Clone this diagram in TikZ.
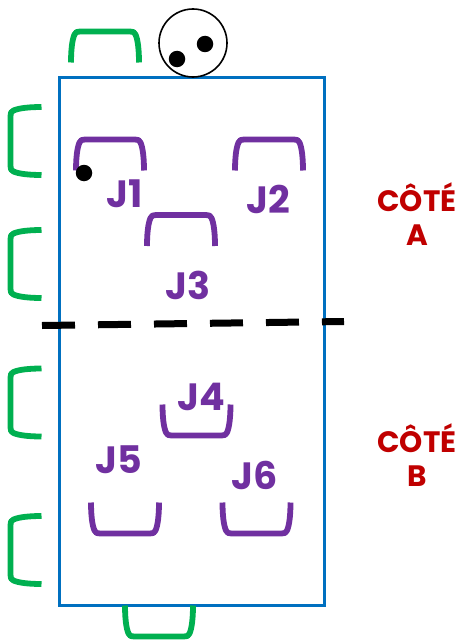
\documentclass[tikz,border=0pt]{standalone}
\usepackage{fontspec}
\setmainfont{Poppins}
\tikzset{
  x=1pt,y=-1pt,
  purplechair/.style={draw=chairpurple,line width=5.8pt},
  greenchair/.style={draw=chairgreen,line width=5.8pt},
  chair/.pic={\path[pic actions,line join=round] (-34,15.5) .. controls (-34,4) and (-33,-7) .. (-30.5,-12.5) .. controls (-29.5,-15) and (-28,-15.5) .. (-25,-15.5) -- (25,-15.5) .. controls (28,-15.5) and (29.5,-15) .. (30.5,-12.5) .. controls (33,-7) and (34,4) .. (34,15.5);},
  jlabel/.style={text=chairpurple,font=\fontsize{38}{38}\selectfont\bfseries,inner sep=0pt},
  sidelabel/.style={text=sidered,font=\fontsize{29.5}{34}\selectfont\bfseries,align=center,inner sep=0pt},
  dot/.style={circle,fill=black,inner sep=0pt,minimum size=16.5pt},
}
\definecolor{chairpurple}{HTML}{7030A0}
\definecolor{chairgreen}{HTML}{00B050}
\definecolor{sidered}{HTML}{C00000}
\definecolor{tableblue}{HTML}{0070C0}
\begin{document}
\begin{tikzpicture}
\useasboundingbox (0,0) rectangle (461,642);
\draw[tableblue,line width=3pt] (59,77) rectangle (324,605);
% green seats
\pic[greenchair] at (105,47) {chair};
\pic[greenchair,rotate=90] at (26,141) {chair};
\pic[greenchair,rotate=90] at (26,264) {chair};
\pic[greenchair,rotate=90] at (26,402.5) {chair};
\pic[greenchair,rotate=90] at (26,550) {chair};
\pic[greenchair,rotate=180] at (159,621) {chair};
% purple seats
\pic[purplechair] at (110,155) {chair};
\pic[purplechair] at (269,155) {chair};
\pic[purplechair] at (181,230.5) {chair};
\pic[purplechair,rotate=180] at (196.5,420) {chair};
\pic[purplechair,rotate=180] at (125,518) {chair};
\pic[purplechair,rotate=180] at (256.5,518) {chair};
% ball holder
\node[circle,draw=black,line width=1.6pt,fill=none,minimum size=68pt,inner sep=0pt] (holder) at (193,43) {};
\node[dot] (ballA) at (205,44) {};
\node[dot] (ballB) at (177,59) {};
\node[dot] (ballC) at (84,173) {};
% labels
\node[jlabel] (j1) at (124.5,193.5) {J1};
\node[jlabel] (j2) at (268,199) {J2};
\node[jlabel] (j3) at (188,285) {J3};
\node[jlabel] (j4) at (201,397) {J4};
\node[jlabel] (j5) at (118.5,460) {J5};
\node[jlabel] (j6) at (255,475) {J6};
\node[sidelabel] (sideA) at (417,214) {CÔTÉ\\A};
\node[sidelabel] (sideB) at (417,455) {CÔTÉ\\B};
% dividing line
\coordinate (divL) at (42,325.5);
\coordinate (divR) at (344,321.5);
\draw[black,line width=7pt,dash pattern=on 33pt off 23pt] (divL) -- (divR);
\end{tikzpicture}
\end{document}
